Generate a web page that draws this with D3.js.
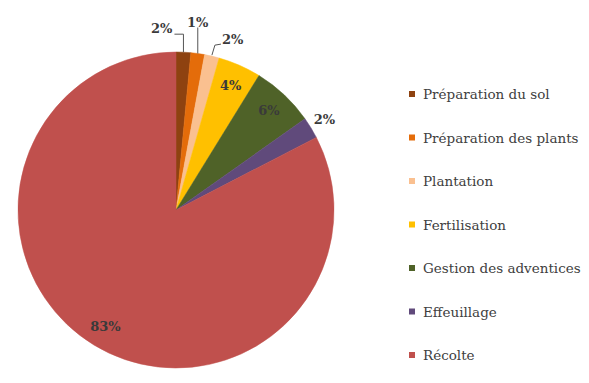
<!DOCTYPE html>
<html>
<head>
<meta charset="utf-8">
<script src="https://cdn.jsdelivr.net/npm/d3@7/dist/d3.min.js"></script>
<style>
  html, body { margin: 0; padding: 0; background: #ffffff; }
  svg { display: block; }
</style>
</head>
<body>
<svg id="chart" width="589" height="383"></svg>
<script>
// ---- data ----
const categories = [
  "Préparation du sol",
  "Préparation des plants",
  "Plantation",
  "Fertilisation",
  "Gestion des adventices",
  "Effeuillage",
  "Récolte"
];
const values = [1.5, 1.4, 1.5, 4.4, 6.4, 2.2, 82.6];
const pctLabels = ["2%", "1%", "2%", "4%", "6%", "2%", "83%"];
const colors = ["#8E4210", "#E46C0A", "#FAC090", "#FFC000", "#4F6228", "#604A7B", "#C0504D"];

// ---- layout ----
const width = 589, height = 383;
const cx = 176, cy = 210, r = 158;
// label placement mode per slice: leader-left, leader-up, leader-right, inside, outside
const labelModes = ["leaderLeft", "leaderUp", "leaderRight", "inside", "inside", "outside", "inside"];

const svg = d3.select("#chart");
const g = svg.append("g").attr("transform", `translate(${cx},${cy})`);

const pie = d3.pie().sort(null).value(d => d.v);
const data = categories.map((c, i) => ({ c, v: values[i], label: pctLabels[i], color: colors[i], mode: labelModes[i] }));
const arcs = pie(data);

const arc = d3.arc().innerRadius(0).outerRadius(r);
g.selectAll("path.slice")
  .data(arcs)
  .enter().append("path")
  .attr("class", "slice")
  .attr("d", arc)
  .attr("fill", d => d.data.color)
  .attr("stroke", d => d.data.color)
  .attr("stroke-width", 0.5);

const labelFont = "'DejaVu Serif', serif";
const labelColor = "#3a3a3a";

function pt(angle, rad) {
  return [rad * Math.sin(angle), -rad * Math.cos(angle)];
}

arcs.forEach(d => {
  const mid = (d.startAngle + d.endAngle) / 2;
  const mode = d.data.mode;
  let tx, ty, anchor = "middle";
  if (mode === "inside") {
    [tx, ty] = pt(mid, r * 0.86);
  } else if (mode === "outside") {
    [tx, ty] = pt(mid, r * 1.1);
  } else {
    const [ax, ay] = pt(mid, r);
    let pts;
    if (mode === "leaderLeft") {
      const ly = ay - 18;
      pts = [[ax, ay], [ax, ly], [ax - 9, ly]];
      tx = ax - 11; ty = ly - 6; anchor = "end";
    } else if (mode === "leaderUp") {
      const ly = ay - 26;
      pts = [[ax, ay], [ax, ly]];
      tx = ax; ty = ly - 5;
    } else {
      pts = [[ax, ay - 1], [ax + 3, ay - 11], [ax + 9, ay - 12]];
      tx = ax + 10; ty = ay - 17; anchor = "start";
    }
    g.append("path")
      .attr("d", d3.line()(pts))
      .attr("fill", "none")
      .attr("stroke", "#555555")
      .attr("stroke-width", 1);
  }
  g.append("text")
    .attr("x", tx)
    .attr("y", ty)
    .attr("text-anchor", anchor)
    .attr("dominant-baseline", "central")
    .attr("font-family", labelFont)
    .attr("font-weight", "bold")
    .attr("font-size", 13)
    .attr("fill", labelColor)
    .text(d.data.label);
});

// ---- legend ----
const legendY = d3.scalePoint().domain(categories).range([94, 355]);
const legend = svg.append("g");
const items = legend.selectAll("g.item").data(data).enter().append("g")
  .attr("class", "item")
  .attr("transform", d => `translate(409,${legendY(d.c)})`);
items.append("rect")
  .attr("x", 0).attr("y", -3).attr("width", 6).attr("height", 6)
  .attr("fill", d => d.color);
items.append("text")
  .attr("x", 14).attr("y", 0)
  .attr("dominant-baseline", "central")
  .attr("font-family", labelFont)
  .attr("font-size", 13.5)
  .attr("fill", "#404040")
  .text(d => d.c);
</script>
</body>
</html>
